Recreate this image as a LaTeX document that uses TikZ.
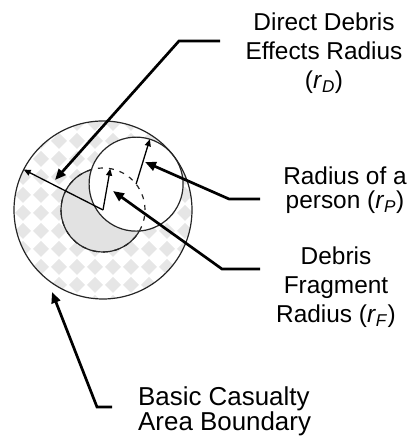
\documentclass[tikz,border=0pt]{standalone}
\usepackage{fontspec}
\setmainfont{Liberation Sans}
\usetikzlibrary{calc, arrows.meta}

\definecolor{tilegray}{HTML}{E6E6E6}
\definecolor{fraggray}{HTML}{E2E2E2}

\begin{document}
\begin{tikzpicture}[x=1bp, y=1bp,
  lbl/.style={inner sep=0pt, align=center, font=\fontsize{24.5}{29}\selectfont},
  ring/.style={line width=1.2bp, black!85},
  lead/.style={line width=2.7bp, -{Triangle[length=11bp,width=9bp]}},
  rad/.style={line width=1.3bp, -{Triangle[length=7bp,width=6bp]}}]
  \useasboundingbox (0,0) rectangle (409,438);
  % centre and the three radii
  \coordinate (O) at (103,228);
  \def\radD{89} \def\radF{42} \def\radP{47}
  \coordinate (P) at ($(O)+(38:\radF)$); % person sits on the r_F circle
  % checker ring
  \begin{scope}
    \clip (O) circle (\radD);
    \foreach \i in {0,...,11}
      \foreach \j in {0,...,11}
        \fill[tilegray] (-3+\i*18, 135+\j*18) -- ++(8,8) -- ++(8,-8) -- ++(-8,-8) -- cycle;
  \end{scope}
  \fill[fraggray] (O) circle (\radF);
  \fill[white] (P) circle (\radP);
  \draw[ring] (O) circle (\radD);
  \draw[ring, dash pattern=on 5bp off 6bp] (O) circle (\radF);
  \begin{scope}[even odd rule]
    \clip (0,0) rectangle (409,438) (P) circle (\radP);
    \draw[ring] (O) circle (\radF);
  \end{scope}
  \draw[ring] (P) circle (\radP);
  % radii
  \coordinate (D) at ($(O)+(153:\radD)$);
  \coordinate (F) at ($(O)+(80:\radF)$);
  \coordinate (Q) at ($(P)+(73:\radP)$);
  \draw[rad] (O) -- (D);
  \draw[rad] (O) -- (F);
  \draw[rad] (P) -- (Q);
  % leader lines
  \coordinate (tipD) at (55,258);
  \coordinate (elbD) at (179,397);
  \coordinate (endD) at (220,397);
  \coordinate (tipP) at (145,276);
  \coordinate (elbP) at (229,239);
  \coordinate (endP) at (260,239);
  \coordinate (tipF) at (113,247);
  \coordinate (elbF) at (222,169);
  \coordinate (endF) at (260,169);
  \coordinate (tipB) at (52,146);
  \coordinate (elbB) at (97,31);
  \coordinate (endB) at (112,31);
  \draw[lead] (endD) -- (elbD) -- (tipD);
  \draw[lead] (endP) -- (elbP) -- (tipP);
  \draw[lead] (endF) -- (elbF) -- (tipF);
  \draw[lead] (endB) -- (elbB) -- (tipB);
  % labels
  \node[lbl, anchor=north] (txtD) at (324,425)
    {Direct Debris\\Effects Radius\\(\textit{r}\textsubscript{\textit{D}})};
  \node[lbl, anchor=north, font=\fontsize{24.5}{24}\selectfont] (txtP) at (345,271)
    {Radius of a\\person (\textit{r}\textsubscript{\textit{P}})};
  \node[lbl, anchor=north] (txtF) at (336,191)
    {Debris\\Fragment\\Radius (\textit{r}\textsubscript{\textit{F}})};
  \node[lbl, anchor=north west, align=left, font=\fontsize{26}{25}\selectfont] (txtB) at (138,51)
    {Basic Casualty\\Area Boundary};
\end{tikzpicture}
\end{document}
